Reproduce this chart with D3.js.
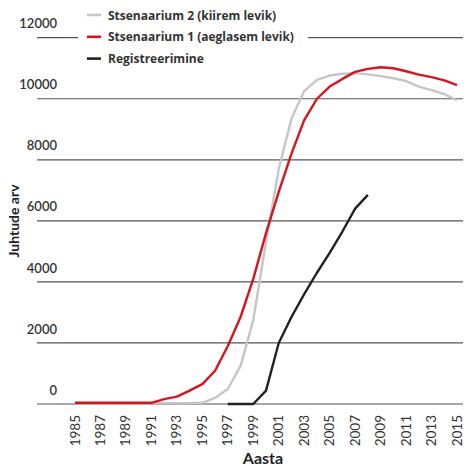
<!DOCTYPE html>
<html>
<head>
<meta charset="utf-8">
<script src="https://cdn.jsdelivr.net/npm/d3@7"></script>
<style>
  body { margin: 0; background: #fff; }
  svg { font-family: Lato, "Open Sans", sans-serif; }
</style>
</head>
<body>
<svg id="chart" width="466" height="467"></svg>
<script>
const years = d3.range(1985, 2016);
// Stsenaarium 2 (kiirem levik)
const stsenaarium2 = [30, 30, 30, 30, 30, 30, 30, 30, 30, 30, 40, 200, 490, 1250, 2750, 5300, 7700, 9350, 10250, 10620,
    10760, 10820, 10840, 10800, 10740, 10670, 10580, 10400, 10280, 10150, 9950];
// Stsenaarium 1 (aeglasem levik)
const stsenaarium1 = [40, 40, 40, 40, 40, 40, 40, 160, 240, 440, 650, 1090, 1900, 2850, 4100, 5600, 6950, 8200, 9300, 10000,
    10400, 10650, 10880, 10980, 11030, 11000, 10900, 10790, 10710, 10600, 10450];
// Registreerimine
const regYears = d3.range(1997, 2009);
const registreerimine = [0, 0, 0, 440, 2000, 2850, 3600, 4300, 4950, 5650, 6400, 6850];

const yTicks = [0, 2000, 4000, 6000, 8000, 10000, 12000];
const xTicks = d3.range(1985, 2016, 2);

const series = [
    { name: "Stsenaarium 2 (kiirem levik)",   color: "#c6c6c6", x: years,    y: stsenaarium2 },
    { name: "Stsenaarium 1 (aeglasem levik)", color: "#d7141d", x: years,    y: stsenaarium1 },
    { name: "Registreerimine",                color: "#222222", x: regYears, y: registreerimine },
];

const svg = d3.select("#chart");
const x = d3.scaleLinear().domain([1985, 2015]).range([75, 457]);
const y = d3.scaleLinear().domain([0, 12000]).range([404, 37.7]);

// gridlines + y labels
svg.selectAll(".grid")
    .data(yTicks)
    .join("line")
    .attr("class", "grid")
    .attr("x1", 37).attr("x2", 463)
    .attr("y1", d => y(d)).attr("y2", d => y(d))
    .attr("stroke", d => d === 0 ? "#888" : "#555")
    .attr("stroke-width", d => d === 0 ? 1.6 : 1.2);

svg.selectAll(".ylab")
    .data(yTicks)
    .join("text")
    .attr("class", "ylab")
    .attr("x", 57)
    .attr("y", d => y(d) - 9.4)
    .attr("text-anchor", "end")
    .attr("font-size", 13)
    .attr("font-weight", 600)
    .attr("fill", "#333")
    .text(d => d);

// x labels
svg.selectAll(".xlab")
    .data(xTicks)
    .join("text")
    .attr("class", "xlab")
    .attr("transform", d => `translate(${x(d) + 4.5},415) rotate(-90)`)
    .attr("text-anchor", "end")
    .attr("font-size", 13.5)
    .attr("fill", "#333")
    .text(d => d);

// lines
const line = d3.line().x(d => x(d[0])).y(d => y(d[1]));
svg.selectAll(".serie")
    .data(series)
    .join("path")
    .attr("class", "serie")
    .attr("fill", "none")
    .attr("stroke", d => d.color)
    .attr("stroke-width", 2.4)
    .attr("stroke-linejoin", "round")
    .attr("d", d => line(d.x.map((v, i) => [v, d.y[i]])));

// axis titles
svg.append("text")
    .attr("x", 263).attr("y", 464)
    .attr("text-anchor", "middle")
    .attr("font-size", 16)
    .attr("font-weight", "bold")
    .attr("fill", "#222")
    .text("Aasta");

svg.append("text")
    .attr("transform", "translate(19,221) rotate(-90)")
    .attr("text-anchor", "middle")
    .attr("font-size", 14)
    .attr("font-weight", "bold")
    .attr("fill", "#222")
    .text("Juhtude arv");

// legend
const legend = svg.append("g");
legend.append("rect")
    .attr("x", 78).attr("y", 4).attr("width", 230).attr("height", 66)
    .attr("fill", "#fff");
const item = legend.selectAll(".leg")
    .data(series)
    .join("g")
    .attr("class", "leg")
    .attr("transform", (d, i) => `translate(0,${15 + i * 21.8})`);
item.append("line")
    .attr("x1", 87).attr("x2", 101)
    .attr("stroke", d => d.color)
    .attr("stroke-width", 2.6);
item.append("text")
    .attr("x", 108).attr("y", 4.6)
    .attr("font-family", "'Open Sans', sans-serif")
    .attr("font-size", 12)
    .attr("font-weight", "bold")
    .attr("fill", "#333")
    .text(d => d.name);
</script>
</body>
</html>
